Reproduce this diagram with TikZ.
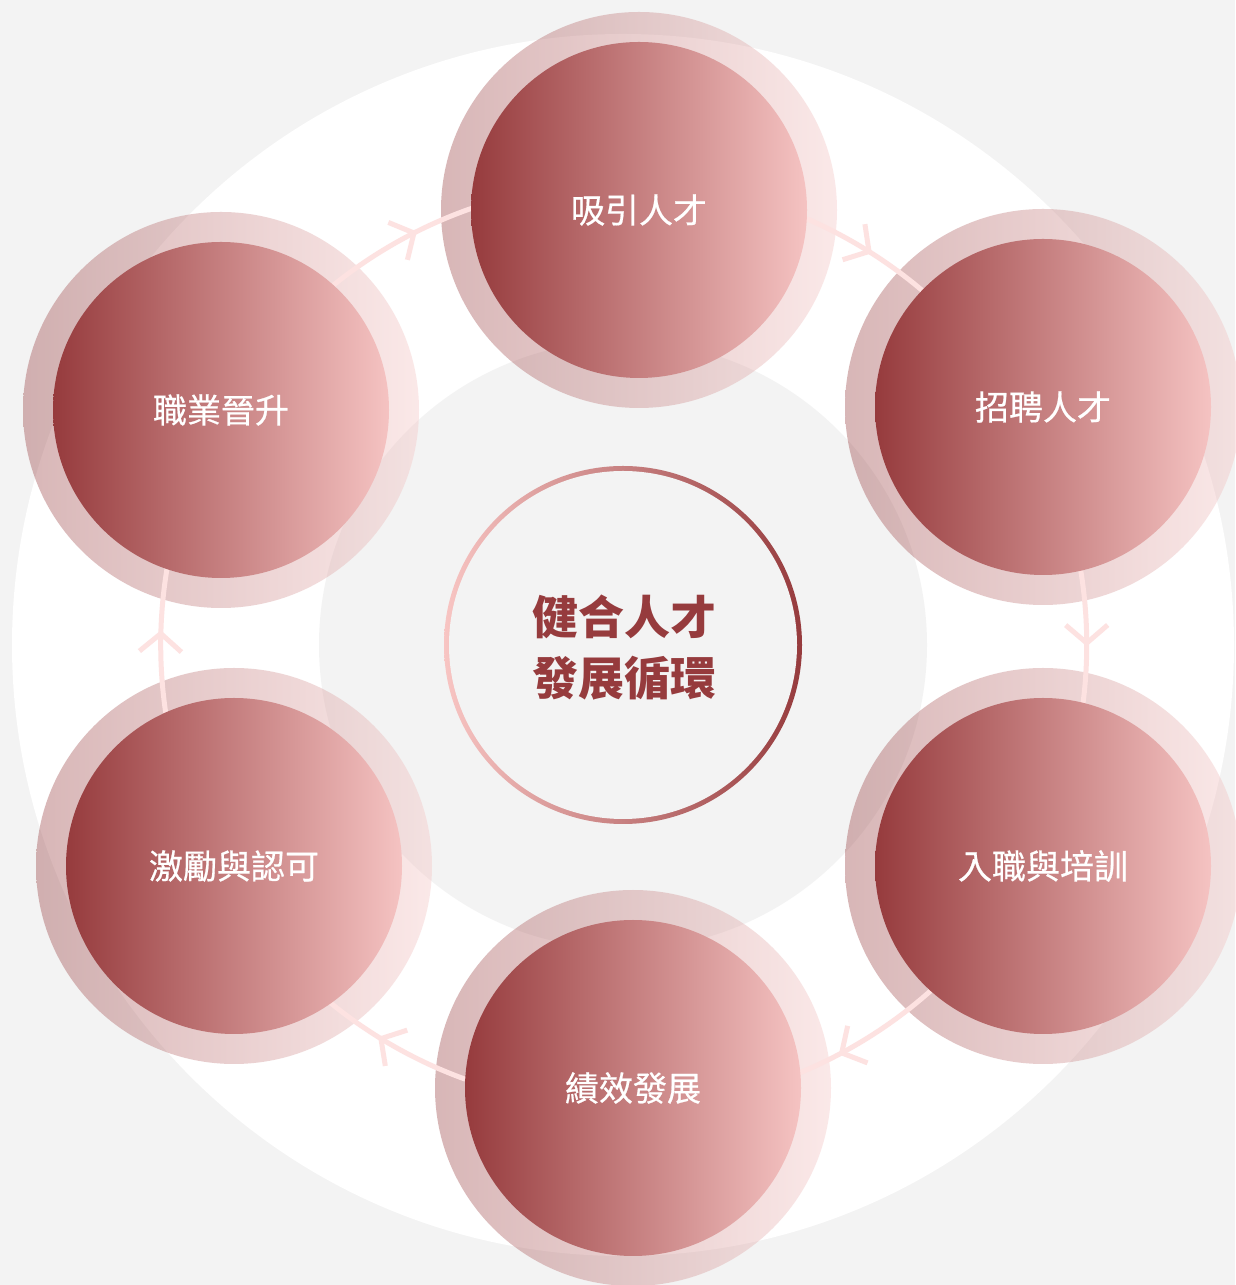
\documentclass[tikz,border=0pt]{standalone}
\usepackage{fontspec}
\newfontfamily\cjk{Noto Sans CJK TC}
\newfontfamily\cjkm{Noto Sans CJK TC}[FakeBold=0.6]
\usetikzlibrary{decorations.markings}
\definecolor{bgc}{HTML}{F3F3F3}
\definecolor{dred}{HTML}{963B3D}
\definecolor{lpink}{HTML}{F5C3C2}
\definecolor{connc}{HTML}{FDE2E1}
\definecolor{ringl}{HTML}{F8C5C3}
\pgfdeclarelayer{back}
\pgfdeclarelayer{mid}
\pgfsetlayers{back,mid,main}
\begin{document}
\begin{tikzpicture}[x=1pt,y=1pt,
  halo/.style={circle, minimum size=396pt, inner sep=0pt, outer sep=0pt, left color=dred, right color=lpink, fill opacity=0.37, draw=none},
  stepnode/.style={circle, minimum size=336pt, inner sep=0pt, outer sep=0pt, left color=dred, right color=lpink, text=white, font=\cjkm\fontsize{34}{40}\selectfont},
  conn/.style={draw=connc, line width=5pt,
    decoration={markings, mark=at position #1 with {\draw[connc, line width=5pt, miter limit=10] (-18pt,21pt) -- (0pt,0pt) -- (-18pt,-21pt);}},
    postaction={decorate}},
]
\useasboundingbox (0,0) rectangle (1235,1285);
\coordinate (C) at (623,640);
\node[stepnode] (A) at (639,1075) {吸引人才};
\node[stepnode] (B) at (1043,878) {招聘人才};
\node[stepnode] (D) at (1043,419) {入職與培訓};
\node[stepnode] (E) at (633,197) {績效發展};
\node[stepnode] (F) at (234,419) {激勵與認可};
\node[stepnode] (G) at (221,875) {職業晉升};
\node[font=\cjk\bfseries\fontsize{46}{61}\selectfont, text=dred, align=center] (T) at (624,637.5) {健合人才\\發展循環};
\begin{pgfonlayer}{back}
  \fill[bgc] (0,0) rectangle (1235,1285);
  \fill[white] (C) circle[radius=611];
  \fill[bgc] (C) circle[radius=304];
  \shade[left color=ringl, right color=dred] (C) circle[radius=179];
  \fill[bgc] (C) circle[radius=174];
  \node[halo] (hA) at (A) {};
  \node[halo] (hB) at (B) {};
  \node[halo] (hD) at (D) {};
  \node[halo] (hE) at (E) {};
  \node[halo] (hF) at (F) {};
  \node[halo] (hG) at (G) {};
\end{pgfonlayer}
\begin{pgfonlayer}{mid}
  \draw[conn=0.44] (A.-3.4) arc[start angle=66.6, end angle=46.8, radius=463];
  \draw[conn=0.465] (B.-77.3) arc[start angle=9.2, end angle=-10.15, radius=463];
  \draw[conn=0.607] (D.228.1) arc[start angle=-48.35, end angle=-70.5, radius=463];
  \draw[conn=0.52] (E.177.4) arc[start angle=-109.9, end angle=-132.2, radius=463];
  \draw[conn=0.469] (F.114.2) arc[start angle=188.4, end angle=167.5, radius=463];
  \draw[conn=0.524] (G.48.4) arc[start angle=128.9, end angle=106.2, radius=463];
\end{pgfonlayer}
\end{tikzpicture}
\end{document}
